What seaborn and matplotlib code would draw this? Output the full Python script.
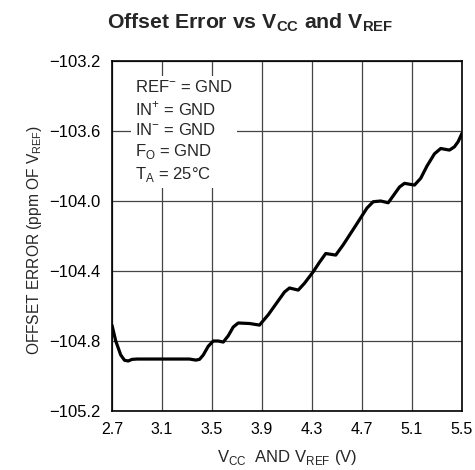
import matplotlib
matplotlib.use("Agg")
import matplotlib.pyplot as plt
import seaborn as sns
import pandas as pd

# Data
vcc = [2.70, 2.73, 2.77, 2.80, 2.83, 2.86, 2.90, 3.00, 3.10, 3.20, 3.32, 3.37,
       3.40, 3.43, 3.47, 3.51, 3.55, 3.59, 3.63, 3.67, 3.71, 3.80, 3.88,
       3.95, 4.03, 4.08, 4.12, 4.19, 4.24, 4.31, 4.36, 4.41, 4.49,
       4.55, 4.65, 4.74, 4.79, 4.85, 4.91, 4.95, 5.00, 5.04, 5.12,
       5.17, 5.22, 5.28, 5.33, 5.40, 5.44, 5.47, 5.50]
offset = [-104.71, -104.80, -104.88, -104.91, -104.914, -104.905, -104.903, -104.903, -104.903,
          -104.903, -104.903, -104.909, -104.905, -104.88, -104.83, -104.80, -104.80, -104.806,
          -104.77, -104.72, -104.697, -104.70, -104.709, -104.65, -104.57, -104.52, -104.497,
          -104.509, -104.47, -104.404, -104.35, -104.30, -104.309, -104.25, -104.14, -104.04,
          -104.004, -104.00, -104.01, -103.97, -103.92, -103.899, -103.909, -103.87, -103.80,
          -103.73, -103.70, -103.709, -103.69, -103.66, -103.613]
xticks = [2.7, 3.1, 3.5, 3.9, 4.3, 4.7, 5.1, 5.5]
yticks = [-105.2, -104.8, -104.4, -104.0, -103.6, -103.2]

df = pd.DataFrame({"vcc": vcc, "offset": offset})

sns.set_theme(style="white")
fam = "Liberation Sans"
plt.rcParams["font.family"] = [fam, "DejaVu Sans"]
plt.rcParams["mathtext.fontset"] = "custom"
plt.rcParams["mathtext.rm"] = fam
plt.rcParams["mathtext.bf"] = fam + ":bold"
plt.rcParams["axes.unicode_minus"] = True

fig = plt.figure(figsize=(4.75, 4.7), dpi=100)
ax = fig.add_axes([0.2358, 0.1255, 0.7368, 0.7447])

sns.lineplot(data=df, x="vcc", y="offset", ax=ax, color="black", linewidth=2.3,
             sort=False, estimator=None, zorder=3)

ax.set_xlim(2.7, 5.5)
ax.set_ylim(-105.2, -103.2)
ax.set_xticks(xticks)
ax.set_yticks(yticks)
ax.set_xticklabels([f"{t:.1f}" for t in xticks], fontsize=11.5)
ax.set_yticklabels([f"\u2212{abs(t):.1f}" for t in yticks], fontsize=12)
ax.tick_params(axis="y", length=0, pad=8, colors="black")
ax.tick_params(axis="x", length=0, pad=8, colors="black")
ax.grid(True, color="#444444", linewidth=0.9)
for s in ax.spines.values():
    s.set_color("black")
    s.set_linewidth(1.2)

ax.set_xlabel(r"V$_{\mathregular{CC}}$  AND V$_{\mathregular{REF}}$ (V)", fontsize=12)
ax.xaxis.set_label_coords(0.5, -0.105)
ax.set_ylabel(r"OFFSET ERROR (ppm OF V$_{\mathregular{REF}}$)", fontsize=11.2)
ax.yaxis.set_label_coords(-0.195, 0.49)

fig.text(0.526, 0.940, r"Offset Error vs V$_{\mathbf{CC}}$ and V$_{\mathbf{REF}}$",
         fontsize=15.3, fontweight="bold", ha="center", va="baseline")

note = ("REF$^{\\mathregular{-}}$ = GND\n"
        "IN$^{\\mathregular{+}}$ = GND\n"
        "IN$^{\\mathregular{-}}$ = GND\n"
        "F$_{\\mathregular{O}}$ = GND\n"
        "T$_{\\mathregular{A}}$ = 25\u00b0C")
ax.text(0.066, 0.95, note, transform=ax.transAxes, ha="left", va="top", fontsize=12,
        linespacing=1.3, zorder=4,
        bbox=dict(facecolor="white", edgecolor="none", pad=3))

fig.savefig("out.png", dpi=100)
